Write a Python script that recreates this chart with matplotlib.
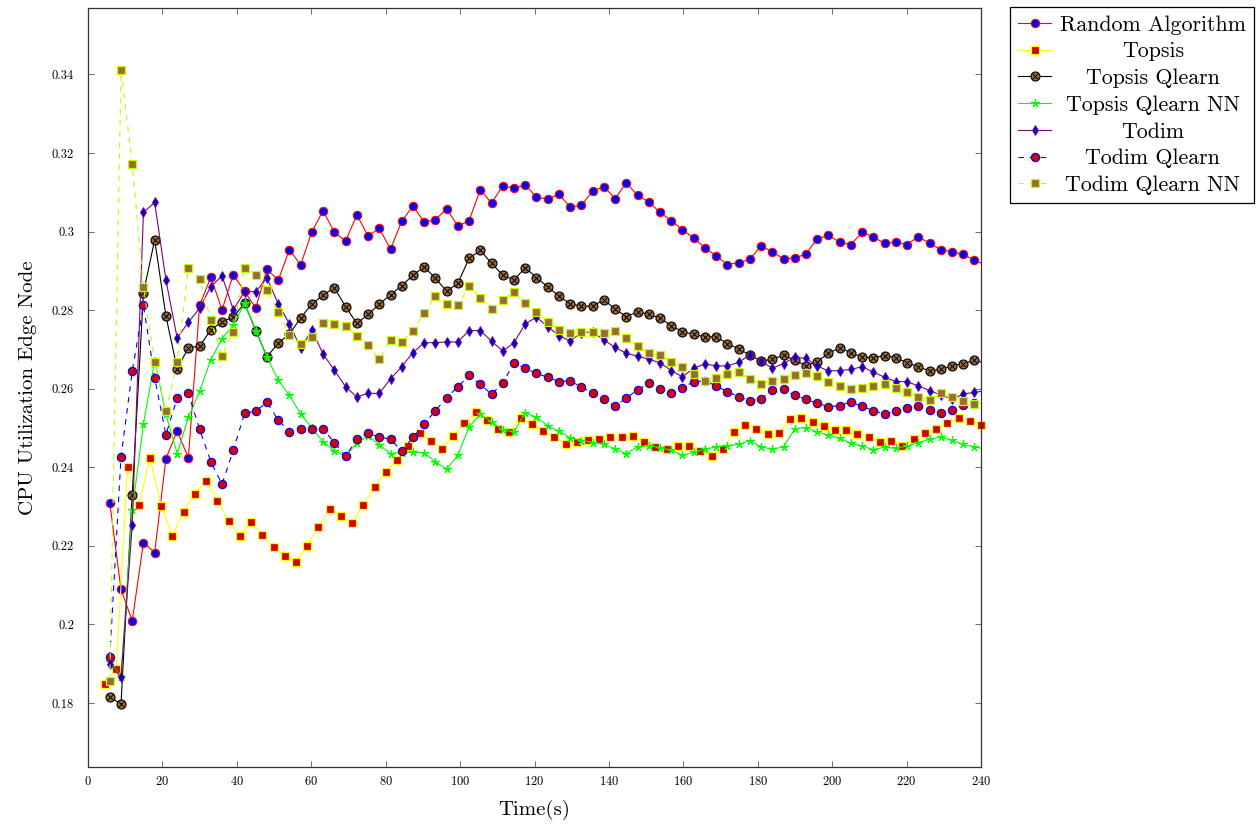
import numpy as np
import matplotlib
matplotlib.use("Agg")
import matplotlib.pyplot as plt
from matplotlib.ticker import FuncFormatter
from matplotlib.legend_handler import HandlerTuple

plt.rcParams['font.family'] = 'serif'
plt.rcParams['font.serif'] = ['cmr10', 'DejaVu Serif']
plt.rcParams['axes.formatter.use_mathtext'] = True
plt.rcParams['mathtext.fontset'] = 'cm'

# sample times (s): one sample about every 3 s, Topsis is logged ~1 s earlier
n_points = 79
t_step = 3.018
t_start = 5.85
t_start_topsis = 4.6
time = t_start + t_step * np.arange(n_points)
time_topsis = t_start_topsis + t_step * np.arange(n_points)

random_alg = [0.2310, 0.2089, 0.2009, 0.2208, 0.2183, 0.2422, 0.2492, 0.2424, 0.2812, 0.2884,
              0.2801, 0.2890, 0.2848, 0.2805, 0.2904, 0.2876, 0.2954, 0.2915, 0.3000, 0.3053,
              0.2998, 0.2976, 0.3042, 0.2989, 0.3008, 0.2955, 0.3026, 0.3065, 0.3024, 0.3030,
              0.3058, 0.3014, 0.3028, 0.3107, 0.3072, 0.3117, 0.3110, 0.3119, 0.3087, 0.3083,
              0.3095, 0.3062, 0.3067, 0.3103, 0.3114, 0.3084, 0.3124, 0.3092, 0.3075, 0.3049,
              0.3027, 0.3005, 0.2983, 0.2959, 0.2938, 0.2916, 0.2921, 0.2929, 0.2964, 0.2948,
              0.2931, 0.2932, 0.2943, 0.2982, 0.2990, 0.2973, 0.2967, 0.2998, 0.2986, 0.2970,
              0.2973, 0.2967, 0.2987, 0.2970, 0.2954, 0.2948, 0.2942, 0.2927, 0.2915]

topsis = [0.1849, 0.1887, 0.2401, 0.2304, 0.2424, 0.2301, 0.2226, 0.2287, 0.2333, 0.2364,
          0.2315, 0.2263, 0.2226, 0.2260, 0.2228, 0.2197, 0.2173, 0.2158, 0.2200, 0.2249,
          0.2293, 0.2276, 0.2257, 0.2304, 0.2351, 0.2389, 0.2418, 0.2455, 0.2486, 0.2467,
          0.2447, 0.2480, 0.2512, 0.2540, 0.2520, 0.2498, 0.2490, 0.2526, 0.2509, 0.2493,
          0.2478, 0.2460, 0.2465, 0.2469, 0.2471, 0.2476, 0.2476, 0.2479, 0.2465, 0.2451,
          0.2447, 0.2455, 0.2454, 0.2442, 0.2429, 0.2446, 0.2489, 0.2508, 0.2497, 0.2484,
          0.2487, 0.2522, 0.2525, 0.2514, 0.2505, 0.2495, 0.2495, 0.2485, 0.2476, 0.2464,
          0.2467, 0.2455, 0.2473, 0.2486, 0.2498, 0.2513, 0.2525, 0.2518, 0.2508]

topsis_qlearn = [0.1816, 0.1797, 0.2330, 0.2844, 0.2979, 0.2785, 0.2651, 0.2704, 0.2708, 0.2750,
                 0.2770, 0.2783, 0.2817, 0.2748, 0.2681, 0.2716, 0.2739, 0.2780, 0.2816, 0.2838,
                 0.2857, 0.2809, 0.2766, 0.2789, 0.2815, 0.2839, 0.2862, 0.2889, 0.2910, 0.2881,
                 0.2848, 0.2868, 0.2932, 0.2952, 0.2919, 0.2889, 0.2877, 0.2908, 0.2883, 0.2859,
                 0.2836, 0.2816, 0.2810, 0.2810, 0.2826, 0.2803, 0.2783, 0.2796, 0.2789, 0.2780,
                 0.2760, 0.2745, 0.2738, 0.2732, 0.2732, 0.2715, 0.2701, 0.2686, 0.2670, 0.2675,
                 0.2685, 0.2673, 0.2658, 0.2669, 0.2690, 0.2704, 0.2692, 0.2680, 0.2679, 0.2684,
                 0.2679, 0.2666, 0.2656, 0.2645, 0.2649, 0.2658, 0.2664, 0.2672, 0.2665]

topsis_qlearn_nn = [0.1905, 0.1867, 0.2290, 0.2510, 0.2671, 0.2535, 0.2435, 0.2527, 0.2593, 0.2674,
                    0.2727, 0.2762, 0.2817, 0.2748, 0.2680, 0.2622, 0.2583, 0.2536, 0.2499, 0.2465,
                    0.2442, 0.2428, 0.2462, 0.2480, 0.2457, 0.2435, 0.2437, 0.2438, 0.2437, 0.2414,
                    0.2395, 0.2431, 0.2503, 0.2535, 0.2516, 0.2495, 0.2490, 0.2539, 0.2527, 0.2506,
                    0.2492, 0.2475, 0.2468, 0.2463, 0.2458, 0.2447, 0.2435, 0.2452, 0.2455, 0.2450,
                    0.2443, 0.2431, 0.2438, 0.2446, 0.2452, 0.2455, 0.2458, 0.2468, 0.2452, 0.2446,
                    0.2452, 0.2498, 0.2501, 0.2490, 0.2481, 0.2474, 0.2461, 0.2454, 0.2445, 0.2451,
                    0.2448, 0.2454, 0.2462, 0.2472, 0.2476, 0.2469, 0.2458, 0.2452, 0.2446]

todim = [0.1900, 0.1865, 0.2253, 0.3049, 0.3074, 0.2877, 0.2729, 0.2769, 0.2805, 0.2860,
         0.2887, 0.2801, 0.2847, 0.2847, 0.2882, 0.2816, 0.2765, 0.2703, 0.2749, 0.2688,
         0.2647, 0.2605, 0.2579, 0.2588, 0.2588, 0.2625, 0.2656, 0.2692, 0.2717, 0.2717,
         0.2719, 0.2719, 0.2748, 0.2748, 0.2721, 0.2696, 0.2717, 0.2765, 0.2782, 0.2758,
         0.2735, 0.2721, 0.2743, 0.2744, 0.2724, 0.2705, 0.2690, 0.2683, 0.2675, 0.2666,
         0.2646, 0.2630, 0.2652, 0.2663, 0.2658, 0.2658, 0.2667, 0.2686, 0.2670, 0.2652,
         0.2664, 0.2680, 0.2677, 0.2658, 0.2645, 0.2646, 0.2649, 0.2656, 0.2642, 0.2629,
         0.2618, 0.2618, 0.2607, 0.2595, 0.2584, 0.2574, 0.2586, 0.2591, 0.2594]

todim_qlearn = [0.1916, 0.2426, 0.2644, 0.2812, 0.2627, 0.2483, 0.2576, 0.2588, 0.2497, 0.2414,
                0.2357, 0.2443, 0.2537, 0.2543, 0.2565, 0.2520, 0.2491, 0.2497, 0.2497, 0.2497,
                0.2463, 0.2428, 0.2471, 0.2488, 0.2476, 0.2472, 0.2441, 0.2476, 0.2510, 0.2544,
                0.2577, 0.2605, 0.2634, 0.2611, 0.2586, 0.2614, 0.2666, 0.2652, 0.2639, 0.2629,
                0.2618, 0.2620, 0.2604, 0.2590, 0.2574, 0.2556, 0.2576, 0.2597, 0.2614, 0.2600,
                0.2590, 0.2602, 0.2618, 0.2620, 0.2607, 0.2592, 0.2580, 0.2569, 0.2574, 0.2597,
                0.2598, 0.2584, 0.2573, 0.2563, 0.2554, 0.2557, 0.2566, 0.2555, 0.2544, 0.2535,
                0.2544, 0.2550, 0.2556, 0.2547, 0.2537, 0.2547, 0.2558, 0.2563, 0.2565]

todim_qlearn_nn = [0.1856, 0.3410, 0.3171, 0.2858, 0.2667, 0.2542, 0.2668, 0.2907, 0.2878, 0.2775,
                   0.2684, 0.2744, 0.2908, 0.2890, 0.2850, 0.2794, 0.2736, 0.2713, 0.2731, 0.2768,
                   0.2764, 0.2760, 0.2735, 0.2710, 0.2675, 0.2724, 0.2719, 0.2748, 0.2793, 0.2837,
                   0.2815, 0.2812, 0.2861, 0.2830, 0.2803, 0.2826, 0.2845, 0.2817, 0.2796, 0.2770,
                   0.2749, 0.2742, 0.2744, 0.2744, 0.2743, 0.2748, 0.2728, 0.2709, 0.2690, 0.2686,
                   0.2668, 0.2654, 0.2637, 0.2620, 0.2626, 0.2637, 0.2642, 0.2625, 0.2612, 0.2620,
                   0.2625, 0.2635, 0.2641, 0.2633, 0.2616, 0.2608, 0.2598, 0.2602, 0.2608, 0.2612,
                   0.2602, 0.2591, 0.2580, 0.2571, 0.2588, 0.2579, 0.2569, 0.2562, 0.2561]

x_ticks = [0, 20, 40, 60, 80, 100, 120, 140, 160, 180, 200, 220, 240]
y_ticks = [0.18, 0.20, 0.22, 0.24, 0.26, 0.28, 0.30, 0.32, 0.34]

BROWN = '#9c6a36'
LIME = '#bfff00'

fig = plt.figure(figsize=(12.59, 8.27), dpi=100)
ax = fig.add_axes([88 / 1259, 1 - 767 / 827, (981 - 88) / 1259, (767 - 8) / 827])

lw = 0.8
ms = 6

h_random, = ax.plot(time, random_alg, color='red', lw=lw, marker='o', ms=ms,
                    mfc='blue', mec='red', mew=0.8)
h_topsis, = ax.plot(time_topsis, topsis, color='yellow', lw=lw, marker='s', ms=ms - 0.5,
                    mfc='#d40000', mec='yellow', mew=0.9, clip_on=False)
h_tq, = ax.plot(time, topsis_qlearn, color='black', lw=lw, marker='o', ms=ms + 0.5,
                mfc=BROWN, mec='black', mew=0.8)
h_tq_x, = ax.plot(time, topsis_qlearn, ls='none', marker='x', ms=4, mec='black', mew=0.7)
h_tqnn, = ax.plot(time, topsis_qlearn_nn, color='#00ff00', lw=lw, marker=(5, 2), ms=ms,
                  mec='#00ff00', mew=0.9)
h_todim, = ax.plot(time, todim, color='#800080', lw=lw, marker='d', ms=5,
                   mfc='#0000cc', mec='#800080', mew=0.6)
h_tdq, = ax.plot(time, todim_qlearn, color='blue', lw=lw, ls=(0, (5, 5)), marker='o', ms=ms,
                 mfc='#d40000', mec='blue', mew=0.8)
h_tdqnn, = ax.plot(time, todim_qlearn_nn, color=LIME, lw=lw, ls=(0, (5, 5)), marker='s', ms=ms - 0.5,
                   mfc=BROWN, mec=LIME, mew=0.9)

ax.set_xlim(0, 240)
ax.set_ylim(0.1637, 0.3569)
ax.set_xticks(x_ticks)
ax.set_yticks(y_ticks)
ax.yaxis.set_major_formatter(FuncFormatter(lambda v, _: f'{v:g}'))
ax.tick_params(direction='in', top=True, right=True, labelsize=9, length=4, width=0.6,
               colors='#555555', labelcolor='black')
ax.tick_params(axis='y', pad=10)
ax.tick_params(axis='x', pad=6)
for s in ax.spines.values():
    s.set_linewidth(0.9)
    s.set_color('#333333')

ax.set_xlabel('Time(s)', fontsize=15, labelpad=8)
ax.set_ylabel('CPU Utilization Edge Node', fontsize=15, labelpad=11)

labels = ['Random Algorithm', 'Topsis', 'Topsis Qlearn', 'Topsis Qlearn NN',
          'Todim', 'Todim Qlearn', 'Todim Qlearn NN']
handles = [h_random, h_topsis, (h_tq, h_tq_x), h_tqnn, h_todim, h_tdq, h_tdqnn]
leg = fig.legend(handles, labels, loc='upper left',
                 bbox_to_anchor=(1010 / 1259, 1 - 7 / 827), bbox_transform=fig.transFigure,
                 fontsize=15.8, frameon=True, fancybox=False, edgecolor='black', framealpha=1,
                 borderaxespad=0, borderpad=0.37, handlelength=1.5, handletextpad=0.4,
                 labelspacing=0.33, handler_map={tuple: HandlerTuple(ndivide=1)})
leg.get_frame().set_linewidth(0.9)

# centre the legend labels like pgfplots does
fig.canvas.draw()
renderer = fig.canvas.get_renderer()
widths = [t.get_window_extent(renderer).width for t in leg.get_texts()]
max_w = max(widths)
for t, w in zip(leg.get_texts(), widths):
    t.set_position(((max_w - w) / 2, 0))

fig.savefig('out.png', dpi=100)
